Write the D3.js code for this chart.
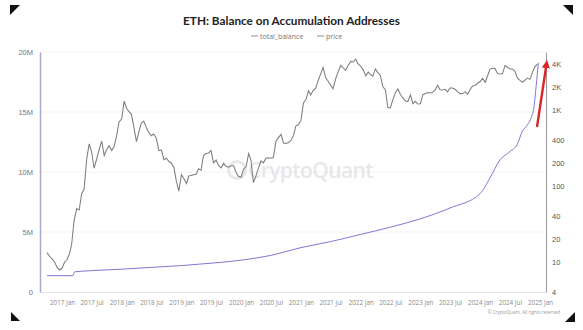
<!DOCTYPE html>
<html>
<head>
<meta charset="utf-8">
<script src="https://cdn.jsdelivr.net/npm/d3@7"></script>
<style>
  html, body { margin: 0; padding: 0; background: #fff; }
  svg { display: block; font-family: "Open Sans", "Noto Sans", sans-serif; }
</style>
</head>
<body>
<svg id="chart" width="583" height="330"></svg>
<script>
// ETH price, sampled on the 1st and 16th of each month from Oct 2016 (USD)
const priceStart = "2016-10-01";
const price = [
  13.2, 11.9, 10.9, 10.0, 8.5, 7.8,                               // 2016 Oct-Dec
  8.2, 9.8, 10.7, 12.8, 17, 35, 50, 48, 78, 90, 225, 355,          // 2017 Jan-Jun
  280, 170, 225, 300, 385, 250, 300, 335, 290, 330, 460, 690,      // 2017 Jul-Dec
  760, 1300, 1030, 940, 870, 600, 380, 510, 670, 710, 580, 500,    // 2018 Jan-Jun
  455, 480, 420, 290, 295, 220, 230, 210, 198, 175, 115, 85,       // 2018 Jul-Dec
  140, 125, 107, 135, 136, 140, 142, 167, 160, 250, 265, 270,      // 2019 Jan-Jun
  290, 200, 218, 185, 172, 198, 180, 175, 183, 183, 151, 132,      // 2019 Jul-Dec
  130, 165, 180, 265, 218, 110, 135, 172, 212, 200, 230, 233,      // 2020 Jan-Jun
  230, 235, 385, 430, 475, 365, 360, 370, 395, 460, 615, 635,      // 2020 Jul-Dec
  730, 1230, 1370, 1780, 1570, 1790, 1920, 2430, 2940, 3600, 2630, 2370, // 2021 Jan-Jun
  2110, 1890, 2560, 3150, 3830, 3570, 3310, 3830, 4320, 4250, 4630, 4020, // 2021 Jul-Dec
  3760, 3350, 2790, 3120, 2920, 2770, 3450, 3060, 2830, 2020, 1820, 1070, // 2022 Jan-Jun
  1060, 1350, 1680, 1880, 1590, 1430, 1310, 1280, 1570, 1200, 1290, 1190, // 2022 Jul-Dec
  1200, 1580, 1640, 1690, 1660, 1680, 1820, 2100, 1830, 1820, 1860, 1720, // 2023 Jan-Jun
  1930, 1930, 1860, 1730, 1630, 1620, 1730, 1600, 1850, 2060, 2090, 2230, // 2023 Jul-Dec
  2350, 2590, 2300, 2800, 3430, 3520, 3500, 3000, 2970, 2950, 3810, 3620, // 2024 Jan-Jun
  3440, 3440, 3200, 2600, 2430, 2300, 2450, 2610, 2510, 3100, 3700, 3990  // 2024 Jul-Dec
];

// Total ETH held on accumulation addresses (millions)
const balanceDates = [
  "2016-10-01", "2017-03-08", "2017-03-20", "2017-07-01", "2018-01-01", "2018-07-01",
  "2019-01-01", "2019-07-01", "2020-01-01", "2020-07-01", "2021-01-01", "2021-07-01",
  "2022-01-01", "2022-07-01", "2023-01-01", "2023-07-01", "2024-01-01", "2024-03-01",
  "2024-05-01", "2024-07-01", "2024-08-15", "2024-09-15", "2024-10-15", "2024-11-10",
  "2024-11-25", "2024-12-08", "2024-12-22"
];
const balance = [
  1.36, 1.36, 1.68, 1.78, 1.9, 2.05,
  2.2, 2.4, 2.65, 3.05, 3.7, 4.2,
  4.8, 5.4, 6.1, 7.0, 8.2, 9.5,
  11.0, 11.7, 12.3, 13.4, 13.9, 14.6,
  15.4, 17.1, 19.1
];

const leftTicks = [0, 5, 10, 15, 20];
const leftTickLabels = ["0", "5M", "10M", "15M", "20M"];
const rightTicks = [4, 10, 20, 40, 100, 200, 400, 1000, 2000, 4000];
const rightTickLabels = ["4", "10", "20", "40", "100", "200", "400", "1K", "2K", "4K"];
const xTickDates = [
  "2017-01-01", "2017-07-01", "2018-01-01", "2018-07-01", "2019-01-01", "2019-07-01",
  "2020-01-01", "2020-07-01", "2021-01-01", "2021-07-01", "2022-01-01", "2022-07-01",
  "2023-01-01", "2023-07-01", "2024-01-01", "2024-07-01", "2025-01-01"
];

const parse = d3.utcParse("%Y-%m-%d");
const t0 = parse(priceStart);
const priceData = price.map((v, i) => {
  const m = d3.utcMonth.offset(t0, Math.floor(i / 2));
  return { date: i % 2 ? d3.utcDay.offset(m, 15) : m, value: v };
});
const balanceData = balanceDates.map((d, i) => ({ date: parse(d), value: balance[i] }));

const svg = d3.select("#chart");
const W = 583, H = 330;
const plot = { left: 40, right: 546, top: 52, bottom: 292 };

svg.append("rect").attr("width", W).attr("height", H).attr("fill", "#fff");

// Corner marks of the frame
const corners = [
  [[10, 5], [20, 5], [10, 15]],
  [[563, 5], [573, 5], [573, 15]],
  [[11, 312], [11, 321], [20, 321]],
  [[575, 312], [575, 322], [565, 322]]
];
svg.selectAll("path.corner").data(corners).join("path")
  .attr("class", "corner")
  .attr("d", d => "M" + d.join("L") + "Z")
  .attr("fill", "#111");

// Scales
const x = d3.scaleUtc()
  .domain([parse("2017-01-01"), parse("2025-01-01")])
  .range([62, 540]);
const yL = d3.scaleLinear().domain([0, 20]).range([plot.bottom, plot.top]);
const yR = d3.scaleLog().domain([4, 4 * Math.pow(10, (plot.bottom - plot.top) / 76)])
  .range([plot.bottom, plot.top]);

// Grid lines
svg.append("g").selectAll("line").data(leftTicks.slice(1)).join("line")
  .attr("x1", plot.left).attr("x2", plot.right)
  .attr("y1", d => yL(d)).attr("y2", d => yL(d))
  .attr("stroke", "#f3f3f5").attr("stroke-width", 1);

// Watermark
const wm = svg.append("g").attr("opacity", 0.5);
wm.append("circle").attr("cx", 237).attr("cy", 170).attr("r", 8.5)
  .attr("fill", "none").attr("stroke", "#d2d2d6").attr("stroke-width", 3);
wm.append("text").attr("x", 248).attr("y", 177.5)
  .attr("font-size", 21).attr("font-weight", 600).attr("fill", "#d2d2d6")
  .attr("letter-spacing", "-0.6")
  .text("CryptoQuant");

// Axes
const gx = svg.append("g").attr("transform", `translate(0,${plot.bottom})`)
  .call(d3.axisBottom(x).tickValues(xTickDates.map(parse))
    .tickFormat(d3.utcFormat("%Y %b")).tickSize(0).tickPadding(9));
gx.select(".domain").attr("stroke", "#e6e6ea").attr("d", `M${plot.left},0.5H${plot.right}`);
gx.selectAll("text").attr("font-size", 6.3).attr("fill", "#8a8a8a")
  .attr("font-family", "'Open Sans', sans-serif");

const gl = svg.append("g").attr("transform", `translate(${plot.left},0)`)
  .call(d3.axisLeft(yL).tickValues(leftTicks).tickFormat((d, i) => leftTickLabels[i])
    .tickSize(0).tickPadding(7));
gl.select(".domain").attr("stroke", "#a9a8cc").attr("stroke-width", 1.5);
gl.selectAll("text").attr("font-size", 7.5).attr("fill", "#777");

const gr = svg.append("g").attr("transform", `translate(${plot.right},0)`)
  .call(d3.axisRight(yR).tickValues(rightTicks).tickFormat((d, i) => rightTickLabels[i])
    .tickSize(0).tickPadding(6));
gr.select(".domain").attr("stroke", "#9a9a9a").attr("stroke-width", 1);
gr.selectAll("text").attr("font-size", 7.5).attr("fill", "#555");

// Series
svg.append("path").datum(balanceData)
  .attr("fill", "none").attr("stroke", "#8177d4").attr("stroke-width", 1)
  .attr("d", d3.line().curve(d3.curveMonotoneX).x(d => x(d.date)).y(d => yL(d.value)));

svg.append("path").datum(priceData)
  .attr("fill", "none").attr("stroke", "#7d7d7d").attr("stroke-width", 1.05)
  .attr("d", d3.line().x(d => x(d.date)).y(d => yR(d.value)));

// Red trend arrow
const defs = svg.append("defs");
defs.append("marker").attr("id", "arrowhead")
  .attr("viewBox", "0 0 10 10").attr("refX", 5).attr("refY", 5)
  .attr("markerWidth", 3.4).attr("markerHeight", 3.4).attr("orient", "auto")
  .append("path").attr("d", "M0,0L10,5L0,10Z").attr("fill", "#d8262a");
svg.append("line")
  .attr("x1", 537).attr("y1", 127).attr("x2", 546.5).attr("y2", 64)
  .attr("stroke", "#d8262a").attr("stroke-width", 2.4)
  .attr("marker-end", "url(#arrowhead)");

// Title and legend
const title = svg.append("text").attr("x", 291.5).attr("y", 25).attr("text-anchor", "middle")
  .attr("font-family", "Lato, 'Open Sans', sans-serif")
  .attr("font-size", 13).attr("font-weight", 700).attr("fill", "#222")
  .text("ETH: Balance on Accumulation Addresses");
// keep the title within its 217px slot
const tw = title.node().getComputedTextLength();
title.attr("font-size", 13 * 217 / tw);

const legendItems = [
  { label: "total_balance", color: "#8d8d99", x: 251 },
  { label: "price", color: "#8d8d8d", x: 317 }
];
const lg = svg.append("g");
legendItems.forEach(it => {
  lg.append("line").attr("x1", it.x).attr("x2", it.x + 7).attr("y1", 36).attr("y2", 36)
    .attr("stroke", it.color).attr("stroke-width", 1);
  lg.append("text").attr("x", it.x + 9).attr("y", 38.5)
    .attr("font-size", 7).attr("fill", "#777").text(it.label);
});

// Copyright
svg.append("text").attr("x", 560).attr("y", 314).attr("text-anchor", "end")
  .attr("font-size", 4.5).attr("fill", "#999")
  .text("© CryptoQuant. All rights reserved");
</script>
</body>
</html>
